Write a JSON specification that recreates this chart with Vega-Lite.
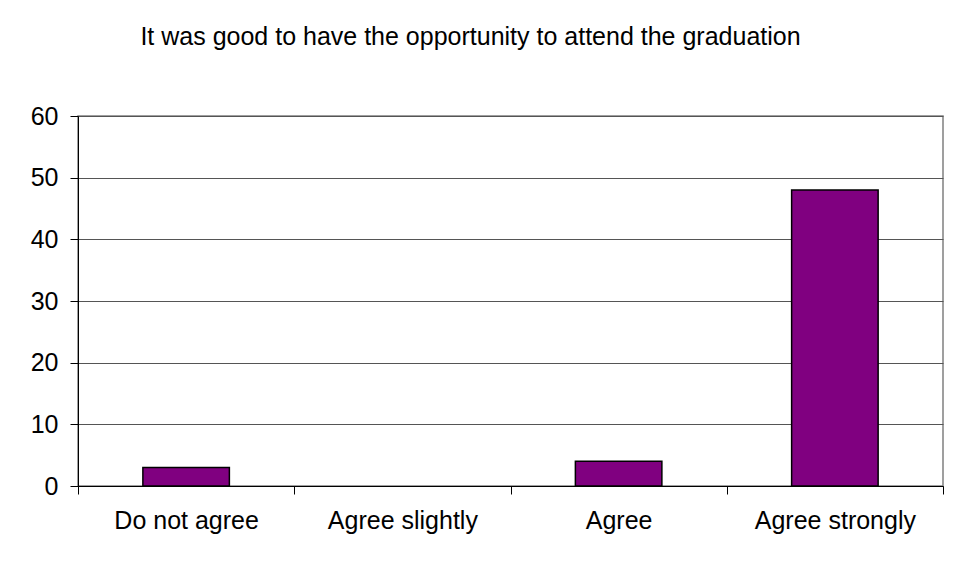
{
  "$schema": "https://vega.github.io/schema/vega-lite/v6.json",
  "autosize": "none",
  "width": 865,
  "height": 370,
  "padding": {"left": 78, "top": 116, "right": 10, "bottom": 81},
  "background": "white",
  "title": {
    "text": "It was good to have the opportunity to attend the graduation",
    "font": "Liberation Sans",
    "fontSize": 25,
    "fontWeight": "normal",
    "color": "black",
    "anchor": "middle",
    "frame": "group",
    "baseline": "bottom",
    "dx": -40,
    "offset": 29
  },
  "data": {
    "values": [
      {"response": "Do not agree", "count": 3},
      {"response": "Agree slightly", "count": 0},
      {"response": "Agree", "count": 4},
      {"response": "Agree strongly", "count": 48}
    ]
  },
  "layer": [
    {
      "mark": {"type": "bar", "color": "#800080", "stroke": "black", "strokeWidth": 1.5},
      "encoding": {
        "x": {
          "field": "response",
          "type": "nominal",
          "sort": null,
          "scale": {"paddingInner": 0.6, "paddingOuter": 0.3},
          "axis": {
            "title": null,
            "labelAngle": 0,
            "labelFont": "Liberation Sans",
            "labelFontSize": 25,
            "labelColor": "black",
            "labelPadding": 14,
            "labelOffset": 108.1,
            "tickOffset": -108.1,
            "tickSize": 8,
            "tickColor": "black",
            "domainColor": "black",
            "grid": false
          }
        },
        "y": {
          "field": "count",
          "type": "quantitative",
          "scale": {"domain": [0, 60], "nice": false},
          "axis": {
            "title": null,
            "values": [0, 10, 20, 30, 40, 50, 60],
            "labelFont": "Liberation Sans",
            "labelFontSize": 25,
            "labelColor": "black",
            "labelPadding": 12,
            "tickSize": 8,
            "tickColor": "black",
            "domainColor": "black",
            "gridColor": "#555555",
            "gridOpacity": 1
          }
        },
        "strokeOpacity": {"condition": {"test": "datum.count > 0", "value": 1}, "value": 0}
      }
    },
    {
      "mark": {"type": "bar", "opacity": 0},
      "encoding": {
        "x": {
          "field": "response",
          "type": "nominal",
          "sort": null,
          "axis": {
            "orient": "bottom",
            "title": null,
            "values": ["Agree strongly"],
            "labels": false,
            "domain": false,
            "grid": false,
            "tickOffset": 108.1,
            "tickSize": 8,
            "tickColor": "black",
            "offset": 0
          }
        },
        "y": {"field": "count", "type": "quantitative"}
      }
    }
  ],
  "resolve": {"axis": {"x": "independent"}},
  "config": {
    "view": {"stroke": "#808080", "strokeWidth": 1.5}
  }
}
